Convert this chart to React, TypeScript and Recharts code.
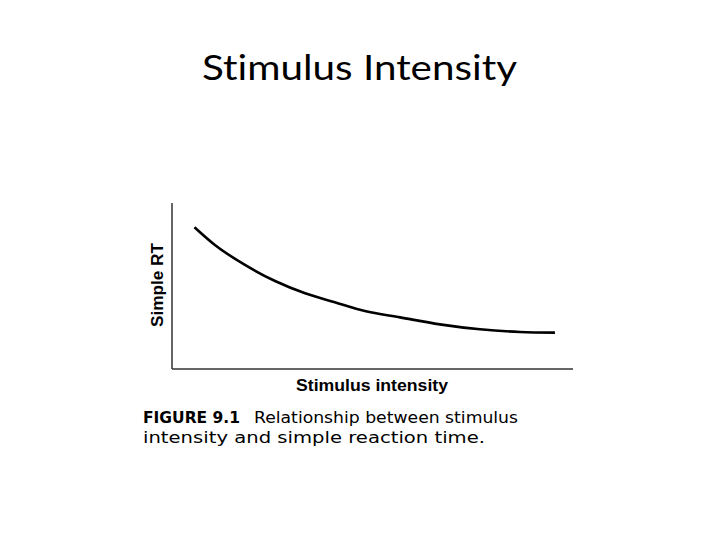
import React from 'react';
import { LineChart, Line, XAxis, YAxis } from 'recharts';

// Stimulus intensity (relative units, 0-100) and simple RT (relative units, 0-100)
const intensity = [5.6, 10.7, 18.2, 25.7, 33.2, 40.6, 48.1, 56.9, 66.8, 76.8, 86.8, 95.5];
const simpleRT = [85.4, 74.7, 62.7, 53.0, 45.6, 40.2, 34.9, 31.1, 26.9, 23.9, 22.3, 21.9];

const title = 'Stimulus Intensity';
const xLabel = 'Stimulus intensity';
const yLabel = 'Simple RT';
const captionBold = 'FIGURE 9.1';
const captionLine1 = 'Relationship between stimulus';
const captionLine2 = 'intensity and simple reaction time.';

const data = intensity.map((x, i) => ({ x, rt: simpleRT[i] }));

const captionFont = "'DejaVu Sans', 'Open Sans', sans-serif";

export default function App() {
  return (
    <div style={{ position: 'absolute', left: 0, top: 0, width: 720, height: 540, background: '#fff' }}>
      <LineChart
        width={720}
        height={540}
        data={data}
        margin={{ top: 203, left: 162, right: 147, bottom: 161 }}
      >
        <XAxis
          type="number"
          dataKey="x"
          domain={[0, 100]}
          height={10}
          tick={false}
          tickLine={false}
          axisLine={{ stroke: '#333', strokeWidth: 1.5 }}
        />
        <YAxis
          type="number"
          domain={[0, 100]}
          width={10}
          tick={false}
          tickLine={false}
          axisLine={{ stroke: '#333', strokeWidth: 1.5 }}
        />
        <Line
          type="monotone"
          dataKey="rt"
          stroke="#000"
          strokeWidth={2.6}
          dot={false}
          isAnimationActive={false}
        />
      </LineChart>
      <svg
        width={720}
        height={540}
        style={{ position: 'absolute', left: 0, top: 0, pointerEvents: 'none' }}
      >
        <text x={359.5} y={80} textAnchor="middle" fontFamily="Lato, 'Open Sans', sans-serif" fontSize={35} fill="#000" textLength={315} lengthAdjust="spacingAndGlyphs" style={{ fontVariantLigatures: 'none' }}>
          {title}
        </text>
        <text
          x={0}
          y={0}
          transform="translate(162.5,285) rotate(-90)"
          textAnchor="middle"
          fontFamily="'Liberation Sans', Arial, sans-serif"
          fontWeight="bold"
          fontSize={17}
          fill="#000"
          textLength={84}
          lengthAdjust="spacingAndGlyphs"
        >
          {yLabel}
        </text>
        <text x={372} y={390.5} textAnchor="middle" fontFamily="'Liberation Sans', Arial, sans-serif" fontWeight="bold" fontSize={17} fill="#000" textLength={152} lengthAdjust="spacingAndGlyphs">
          {xLabel}
        </text>
        <text y={423} fontFamily={captionFont} fontSize={16.5} fill="#000">
          <tspan x={143} fontWeight="bold" textLength={97} lengthAdjust="spacingAndGlyphs">{captionBold}</tspan>
          <tspan x={254} textLength={264} lengthAdjust="spacingAndGlyphs">{captionLine1}</tspan>
        </text>
        <text x={143} y={442.5} fontFamily={captionFont} fontSize={16.5} fill="#000" textLength={342} lengthAdjust="spacingAndGlyphs">
          {captionLine2}
        </text>
      </svg>
    </div>
  );
}
